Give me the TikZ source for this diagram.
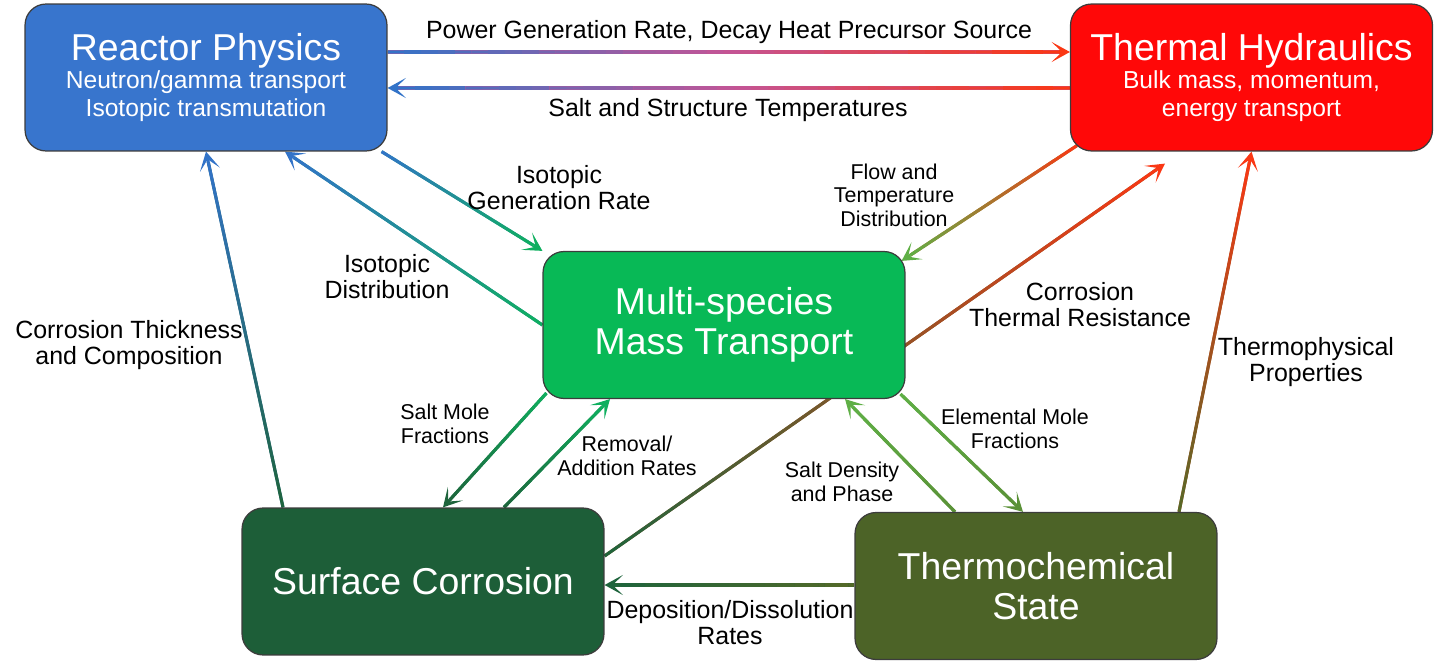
\documentclass[tikz,border=0pt]{standalone}
\usepackage{fontspec}
\setmainfont{Liberation Sans}
\usetikzlibrary{arrows.meta,calc}
\definecolor{rpblue}{RGB}{56,117,205}
\definecolor{thred}{RGB}{255,8,8}
\definecolor{mtgreen}{RGB}{8,185,86}
\definecolor{scgreen}{RGB}{29,94,56}
\definecolor{tsolive}{RGB}{76,99,39}
\definecolor{rpline}{RGB}{50,115,200}
\definecolor{thline}{RGB}{250,55,20}
\definecolor{pinkmid}{RGB}{195,85,150}
\definecolor{brownmid}{RGB}{140,85,40}
\definecolor{mtline}{RGB}{15,175,95}
\definecolor{mtlight}{RGB}{95,175,70}
\definecolor{scline}{RGB}{30,100,60}
\definecolor{tsline}{RGB}{90,145,55}
\definecolor{tsdark}{RGB}{85,105,40}
\definecolor{boxedge}{RGB}{60,60,60}
\pgfdeclarelayer{bg}
\pgfsetlayers{bg,main}
\tikzset{
  modbox/.style={draw=boxedge, line width=0.7pt, rounded corners=12pt, minimum width=7.24cm, minimum height=2.94cm, text=white, align=center, font=\fontsize{21.3}{22.7}\selectfont},
  lbl/.style={align=center, font=\fontsize{14.2}{14.8}\selectfont},
  slbl/.style={align=center, font=\fontsize{12.2}{13.3}\selectfont},
  conn/.style={line width=1.75pt},
  hd/.style={-{Stealth[length=10.5pt,width=11.5pt,inset=6pt]}}
}
\newcommand{\ttl}[1]{{\fontsize{21.3}{15.9}\selectfont #1}}
\newcommand{\gpart}[4]{%
  \foreach \k in {1,...,20}{%
    \pgfmathsetmacro{\gA}{(\k-1)/20}%
    \pgfmathsetmacro{\gB}{\k/20}%
    \pgfmathsetmacro{\gP}{100-(\k-0.5)*5}%
    \draw[conn,#3!\gP!#4] ($(#1)!\gA!(#2)$) -- ($(#1)!\gB!(#2)$);
  }%
}
\newcommand{\garrow}[5][]{%
  \colorlet{gS}{#4}\colorlet{gE}{#5}%
  \def\gmid{#1}%
  \ifx\gmid\empty\colorlet{gM}{gS!50!gE}\else\colorlet{gM}{#1}\fi
  \coordinate (gEnd) at ($(#3)!6pt!(#2)$);
  \coordinate (gMid) at ($(#2)!0.5!(gEnd)$);
  \draw[conn,gM] (#2) -- (gEnd);
  \gpart{#2}{gMid}{gS}{gM}
  \gpart{gMid}{gEnd}{gM}{gE}
  \draw[conn,hd,gE] (gEnd) -- (#3);
}
\begin{document}
\begin{tikzpicture}[x=0.02cm, y=-0.02cm]
\useasboundingbox (0,0) rectangle (1436,665);

\node[modbox, fill=rpblue, font=\fontsize{14}{15.9}\selectfont] (rp) at (206,77.5) {\ttl{Reactor Physics}\\Neutron/gamma transport\\Isotopic transmutation};
\node[modbox, fill=thred, font=\fontsize{14}{15.9}\selectfont] (th) at (1251.5,77.5) {\ttl{Thermal Hydraulics}\\Bulk mass, momentum,\\energy transport};
\node[modbox, fill=mtgreen] (mt) at (724,325) {Multi-species\\Mass Transport};
\node[modbox, fill=scgreen] (sc) at (423,581.5) {Surface Corrosion};
\node[modbox, fill=tsolive] (ts) at (1036,586) {Thermochemical\\State};

\begin{pgfonlayer}{bg}
\garrow[pinkmid]{rp.east |- 0,52}{th.west |- 0,52}{rpline}{thline}
\garrow[pinkmid]{th.west |- 0,88}{rp.east |- 0,88}{thline}{rpline}
\garrow{$(rp.south east)+(-6,0)$}{mt.north west}{rpline}{mtline}
\garrow{mt.west}{$(rp.south)+(79,0)$}{mtline}{rpline}
\garrow{$(sc.north)+(-140,0)$}{rp.south}{scline}{rpline}
\garrow{$(th.south west)+(7,-6)$}{$(mt.north east)+(-4,10)$}{thline}{mtlight}
\garrow[brownmid]{$(sc.east)+(0,-25.5)$}{$(th.south)+(-86.5,12)$}{scline}{thline}
\garrow{$(ts.north)+(143,0)$}{th.south}{tsdark}{thline}
\garrow{$(mt.south west)+(4,-6)$}{$(sc.north)+(20,0)$}{mtline}{scline}
\garrow{$(sc.north)+(81,0)$}{$(mt.south)+(-114,0)$}{scline}{mtline}
\garrow{$(ts.north)+(-81,0)$}{$(mt.south)+(121,0)$}{tsline}{mtlight}
\garrow{$(mt.south east)+(-5,-5)$}{$(ts.north)+(-13,0)$}{mtlight}{tsline}
\garrow{ts.west |- 0,585}{sc.east |- 0,585}{tsdark}{scline}
\end{pgfonlayer}

\node[lbl, anchor=base] (pwr) at (729,38.5) {Power Generation Rate, Decay Heat Precursor Source};
\node[lbl, anchor=base] (tmp) at (728,117) {Salt and Structure Temperatures};
\node[lbl] (isogen) at (559,188) {Isotopic\\Generation Rate};
\node[lbl] (isodist) at (387,277) {Isotopic\\Distribution};
\node[lbl] (cthick) at (129,345) {Corrosion Thickness\\and Composition};
\node[slbl] (flow) at (894,195) {Flow and\\Temperature\\Distribution};
\node[lbl] (cres) at (1080,305) {Corrosion\\Thermal Resistance};
\node[lbl] (tprop) at (1306,362) {Thermophysical\\Properties};
\node[slbl] (smole) at (445,424) {Salt Mole\\Fractions};
\node[slbl] (remv) at (627,456) {Removal/\\Addition Rates};
\node[slbl] (sdens) at (842,482) {Salt Density\\and Phase};
\node[slbl] (emole) at (1015,429) {Elemental Mole\\Fractions};
\node[lbl] (depo) at (730,623) {Deposition/Dissolution\\Rates};
\end{tikzpicture}
\end{document}
